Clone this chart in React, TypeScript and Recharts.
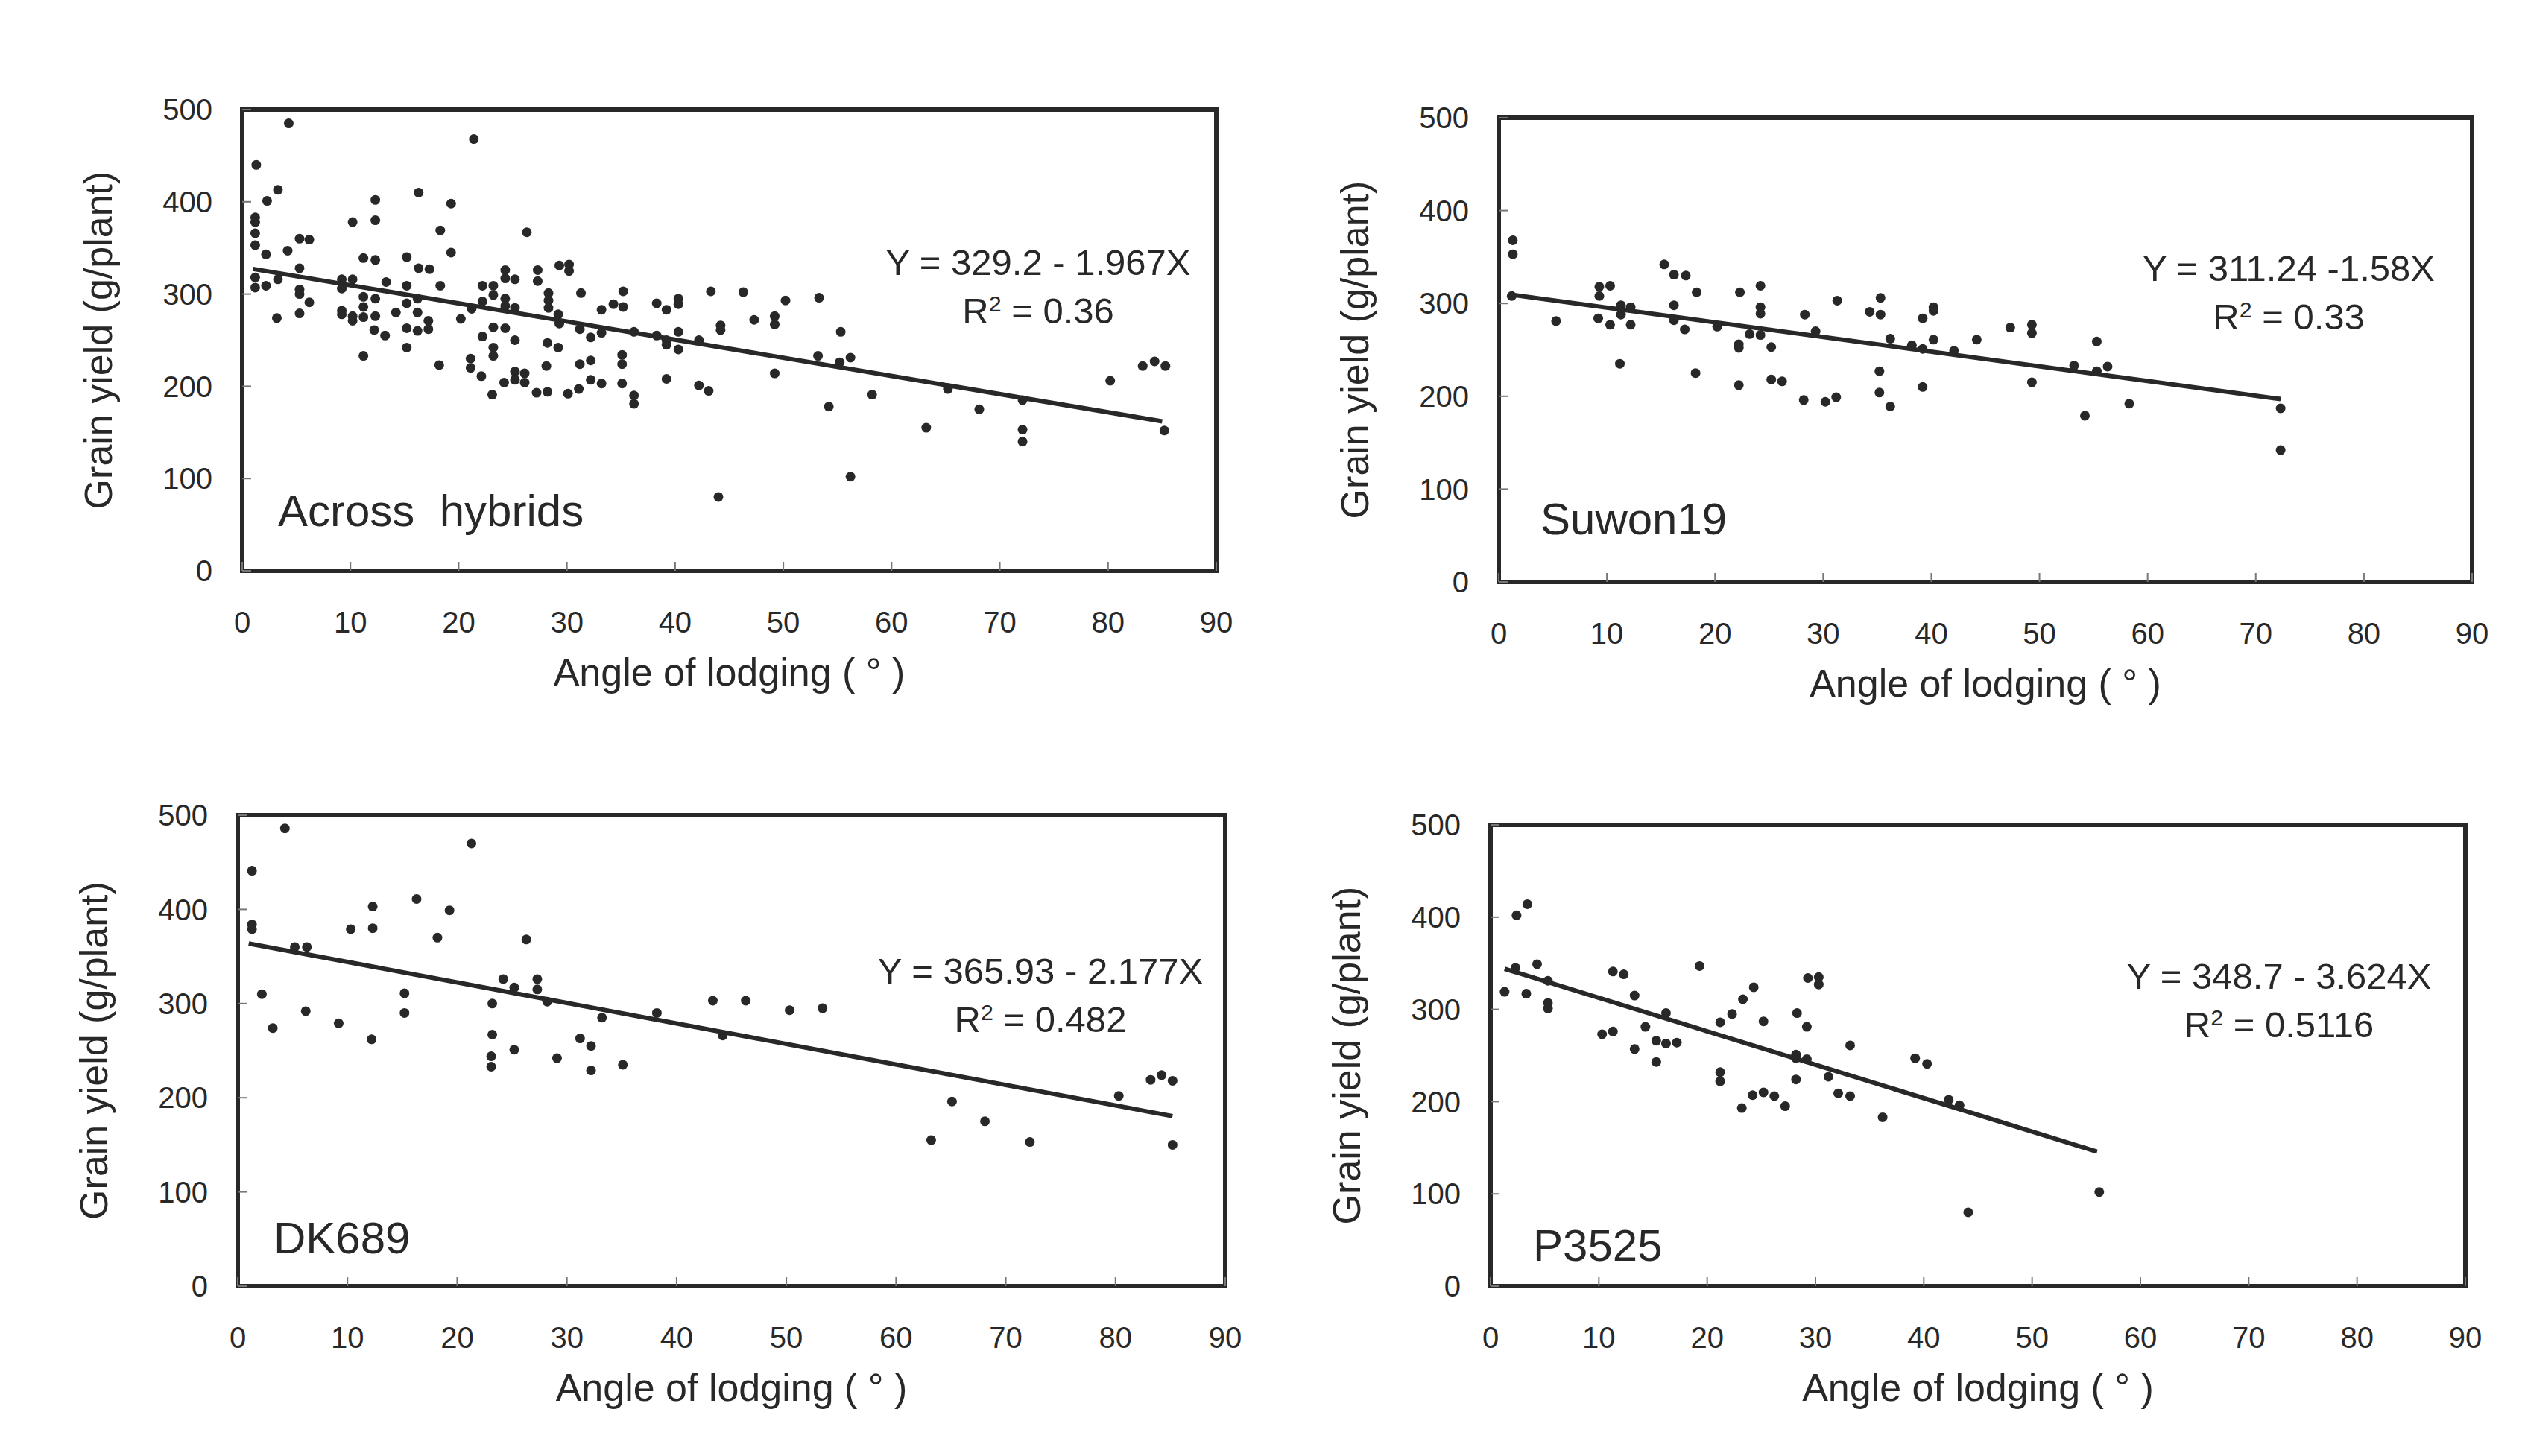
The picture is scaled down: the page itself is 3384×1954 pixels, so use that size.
import { ScatterChart, Scatter, XAxis, YAxis, ReferenceArea } from 'recharts';

const FONT = '"Liberation Sans", Arial, Helvetica, sans-serif';
const INK = '#282828';

const xTicks = [0, 10, 20, 30, 40, 50, 60, 70, 80, 90];
const yTicks = [0, 100, 200, 300, 400, 500];

// [angle of lodging, grain yield]
const acrossHybrids: [number, number][] = [
  [4.3, 485], [21.4, 468], [1.3, 440], [3.3, 413], [2.3, 401], [16.3, 410], [12.3, 402], [19.3, 398],
  [1.2, 383], [1.2, 378], [1.2, 366], [1.2, 353], [12.3, 380], [10.2, 378], [18.3, 369], [26.3, 367],
  [5.3, 360], [6.2, 359], [4.2, 347], [2.2, 343], [19.3, 345], [11.2, 339], [12.3, 337], [15.2, 340],
  [16.3, 328], [17.3, 327], [5.3, 328], [24.3, 326], [24.3, 317], [27.3, 326], [27.3, 314], [29.3, 331],
  [30.2, 332], [30.2, 325], [1.2, 318], [1.2, 307], [2.2, 309], [3.3, 316], [9.2, 316], [9.2, 306],
  [10.2, 316], [13.3, 313], [15.2, 309], [18.3, 309], [22.2, 309], [23.2, 309], [23.2, 299], [25.2, 316],
  [5.3, 305], [5.3, 300], [11.2, 297], [12.3, 295], [16.2, 295], [6.2, 291], [22.2, 292], [24.3, 295],
  [24.3, 287], [31.3, 301], [28.3, 301], [28.3, 293], [28.3, 285], [35.2, 303], [34.3, 289], [35.2, 286],
  [33.2, 283], [15.2, 290], [11.2, 286], [25.2, 285], [21.2, 284], [3.2, 274], [5.3, 279], [9.2, 282],
  [9.2, 278], [10.2, 276], [10.2, 271], [11.2, 275], [12.3, 276], [14.2, 280], [16.2, 280], [20.2, 273],
  [29.2, 278], [17.2, 271], [17.2, 262], [12.2, 261], [13.2, 255], [15.2, 263], [16.2, 260], [23.2, 264],
  [24.3, 263], [29.3, 268], [31.2, 262], [32.2, 253], [33.2, 258], [36.2, 259], [22.2, 254], [25.2, 250],
  [28.2, 247], [29.2, 242], [15.2, 242], [11.2, 233], [18.2, 223], [21.1, 230], [21.1, 220], [23.2, 242],
  [23.2, 233], [28.1, 222], [31.2, 224], [32.2, 228], [35.1, 234], [35.1, 224], [22.1, 211], [24.2, 204],
  [25.2, 216], [25.2, 207], [26.1, 214], [26.1, 204], [27.2, 193], [28.2, 194], [23.1, 191], [30.1, 192],
  [31.1, 197], [32.2, 207], [33.2, 203], [35.1, 203], [36.2, 190], [36.2, 181],
  [38.3, 290], [39.2, 283], [40.3, 295], [40.3, 289], [43.3, 303], [46.3, 302], [47.3, 272], [49.2, 276],
  [49.2, 267], [50.2, 293], [53.3, 296], [38.3, 255], [39.2, 250], [39.2, 245], [40.3, 259], [40.3, 240],
  [42.2, 250], [44.2, 266], [44.2, 261], [39.2, 208], [42.2, 201], [43.1, 195], [49.2, 214], [53.2, 233],
  [55.3, 259], [55.2, 226], [56.2, 231], [54.2, 178], [58.2, 191], [63.2, 155], [65.2, 197], [68.1, 175],
  [72.1, 185], [72.1, 153], [72.1, 140], [56.2, 102], [44, 80],
  [80.2, 206], [83.2, 222], [84.3, 227], [85.3, 222], [85.2, 152],
];

const suwon19: [number, number][] = [
  [1.3, 368], [1.3, 353], [1.2, 308], [5.3, 281], [9.3, 318], [9.3, 308], [10.3, 319], [9.2, 284],
  [10.3, 277], [11.3, 298], [11.3, 288], [12.2, 296], [12.2, 277], [11.2, 235], [15.3, 342], [16.2, 331],
  [17.3, 330], [18.3, 312], [16.2, 298], [16.2, 282], [17.2, 272], [18.2, 225], [20.2, 275], [22.3, 312],
  [22.2, 256], [22.2, 252], [22.2, 212], [23.2, 267], [24.2, 319], [24.2, 296], [24.2, 289], [24.2, 266],
  [25.2, 253], [25.2, 218], [26.2, 216], [28.3, 288], [29.3, 270], [28.2, 196], [30.2, 194], [31.2, 199],
  [31.3, 303], [34.3, 291], [35.3, 306], [35.3, 288], [36.2, 262], [35.2, 227], [35.2, 204], [36.2, 189],
  [38.2, 255], [39.2, 284], [39.2, 251], [39.2, 210], [40.2, 296], [40.2, 292], [40.2, 261], [42.1, 249],
  [44.2, 261], [47.3, 274], [49.3, 277], [49.3, 268], [49.3, 215], [53.2, 233], [55.3, 259], [55.3, 227],
  [56.3, 232], [54.2, 179], [58.3, 192], [72.3, 187], [72.3, 142],
];

const dk689: [number, number][] = [
  [4.3, 486], [21.3, 470], [1.3, 441], [16.3, 411], [12.3, 403], [19.3, 399], [1.3, 384], [1.3, 379],
  [10.3, 379], [12.3, 380], [18.2, 370], [26.3, 368], [5.2, 360], [6.3, 360], [2.2, 310], [15.2, 311],
  [15.2, 290], [6.2, 292], [3.2, 274], [9.2, 279], [12.2, 262], [24.2, 326], [25.2, 317], [27.3, 326],
  [27.3, 315], [23.2, 300], [28.2, 302], [23.2, 267], [25.2, 251], [23.1, 244], [23.1, 233], [29.1, 242],
  [31.2, 263], [32.2, 255], [32.2, 229], [33.2, 285], [35.1, 235], [38.2, 290], [43.3, 303], [46.3, 303],
  [50.3, 293], [53.3, 295], [44.2, 266], [65.1, 196], [68.1, 175], [63.2, 155], [72.2, 153], [80.3, 202],
  [83.2, 219], [84.2, 224], [85.2, 218], [85.2, 150],
];

const p3525: [number, number][] = [
  [3.4, 414], [2.4, 402], [4.3, 349], [2.3, 345], [1.3, 319], [3.3, 317], [5.3, 331], [5.3, 307],
  [5.3, 301], [11.3, 341], [12.3, 338], [13.3, 315], [14.3, 281], [16.2, 296], [10.3, 273], [11.3, 276],
  [13.3, 257], [15.3, 266], [16.2, 263], [17.2, 264], [15.3, 243], [19.3, 347], [21.2, 286], [22.3, 295],
  [23.3, 311], [24.3, 324], [25.2, 287], [21.2, 232], [21.2, 222], [23.2, 193], [24.2, 207], [25.2, 210],
  [26.2, 206], [27.2, 195], [28.3, 296], [29.3, 334], [30.3, 335], [30.3, 327], [29.2, 281], [28.2, 251],
  [28.2, 247], [29.2, 246], [28.2, 224], [31.2, 227], [32.1, 209], [33.2, 261], [33.2, 206], [36.2, 183],
  [39.2, 247], [40.3, 241], [42.3, 202], [43.3, 196], [44.1, 80], [56.2, 102],
];

// regression: [intercept, slope], fitted x range
const fitAcross = [329.2, -1.967];
const fitSuwon = [311.24, -1.58];
const fitDk = [365.93, -2.177];
const fitP = [348.7, -3.624];
const rangeAcross = [1, 85];
const rangeSuwon = [1.3, 72.3];
const rangeDk = [1, 85.2];
const rangeP = [1.3, 56];

const YW = 300;
const XH = 170;
const PAD_T = 30;
const PAD_R = 30;

const Dot = (p: any) => <circle cx={p.cx} cy={p.cy} r={6.5} fill={INK} />;
const NoDot = () => <g />;

type PanelProps = {
  points: [number, number][];
  fit: number[];
  range: number[];
  eq: string;
  r2: string;
  name: string;
  plot: { x: number; y: number; w: number; h: number };
  eqAt: [number, number];
  nameAt: [number, number];
};

function Panel({ points, fit, range, eq, r2, name, plot, eqAt, nameAt }: PanelProps) {
  const data = points.map(([x, y]) => ({ x, y }));
  const line = range.map((x) => ({ x, y: fit[0] + fit[1] * x }));
  const textBase = { position: 'absolute' as const, fontFamily: FONT, color: INK, whiteSpace: 'pre' as const, lineHeight: 1 };

  return (
    <>
      <div style={{ position: 'absolute', left: plot.x - YW, top: plot.y - PAD_T }}>
        <ScatterChart
          width={YW + plot.w + PAD_R}
          height={PAD_T + plot.h + XH}
          margin={{ top: PAD_T, right: PAD_R, bottom: 0, left: 0 }}
        >
          <XAxis
            type="number"
            dataKey="x"
            domain={[0, 90]}
            ticks={xTicks}
            interval={0}
            height={XH}
            tickSize={-12}
            tickMargin={67}
            axisLine={false}
            tickLine={{ stroke: '#777', strokeWidth: 2 }}
            tick={{ fontSize: 40, fill: INK, fontFamily: FONT }}
            label={{ value: 'Angle of lodging ( ° )', position: 'insideBottom', offset: 16, fontSize: 52, fill: INK, fontFamily: FONT }}
          />
          <YAxis
            type="number"
            dataKey="y"
            domain={[0, 500]}
            ticks={yTicks}
            interval={0}
            width={YW}
            tickSize={-12}
            tickMargin={52}
            axisLine={false}
            tickLine={{ stroke: '#777', strokeWidth: 2 }}
            tick={{ fontSize: 40, fill: INK, fontFamily: FONT }}
            label={{ value: 'Grain yield (g/plant)', angle: -90, position: 'center', dx: -43, fontSize: 52, fill: INK, fontFamily: FONT }}
          />
          <ReferenceArea x1={0} x2={90} y1={0} y2={500} fill="none" stroke={INK} strokeWidth={6} ifOverflow="visible" />
          <Scatter data={data} shape={Dot} isAnimationActive={false} />
          <Scatter data={line} line={{ stroke: INK, strokeWidth: 6 }} shape={NoDot} isAnimationActive={false} />
        </ScatterChart>
      </div>
      <div style={{ ...textBase, fontSize: 49, left: plot.x + eqAt[0], top: plot.y + eqAt[1], transform: 'translate(-50%, -50%)' }}>
        {eq}
      </div>
      <div style={{ ...textBase, fontSize: 49, left: plot.x + eqAt[0], top: plot.y + eqAt[1] + 65, transform: 'translate(-50%, -50%)' }}>
        R<sup style={{ fontSize: '0.62em', verticalAlign: '0.55em' }}>2</sup>
        {' = ' + r2}
      </div>
      <div style={{ ...textBase, fontSize: 60, left: plot.x + nameAt[0], top: plot.y + nameAt[1], transform: 'translateY(-50%)' }}>
        {name}
      </div>
    </>
  );
}

export default function App() {
  return (
    <div style={{ position: 'absolute', left: 0, top: 0, width: 3384, height: 1954, background: '#fff', overflow: 'hidden' }}>
      <Panel
        points={acrossHybrids}
        fit={fitAcross}
        range={rangeAcross}
        eq="Y = 329.2 - 1.967X"
        r2="0.36"
        name="Across  hybrids"
        plot={{ x: 325, y: 147, w: 1307, h: 619 }}
        eqAt={[1068, 205]}
        nameAt={[48, 539]}
      />
      <Panel
        points={suwon19}
        fit={fitSuwon}
        range={rangeSuwon}
        eq="Y = 311.24 -1.58X"
        r2="0.33"
        name="Suwon19"
        plot={{ x: 2011, y: 158, w: 1306, h: 623 }}
        eqAt={[1060, 202]}
        nameAt={[56, 539]}
      />
      <Panel
        points={dk689}
        fit={fitDk}
        range={rangeDk}
        eq="Y = 365.93 - 2.177X"
        r2="0.482"
        name="DK689"
        plot={{ x: 319, y: 1094, w: 1325, h: 632 }}
        eqAt={[1077, 209]}
        nameAt={[48, 568]}
      />
      <Panel
        points={p3525}
        fit={fitP}
        range={rangeP}
        eq="Y = 348.7 - 3.624X"
        r2="0.5116"
        name="P3525"
        plot={{ x: 2000, y: 1107, w: 1308, h: 619 }}
        eqAt={[1058, 203]}
        nameAt={[57, 565]}
      />
    </div>
  );
}
